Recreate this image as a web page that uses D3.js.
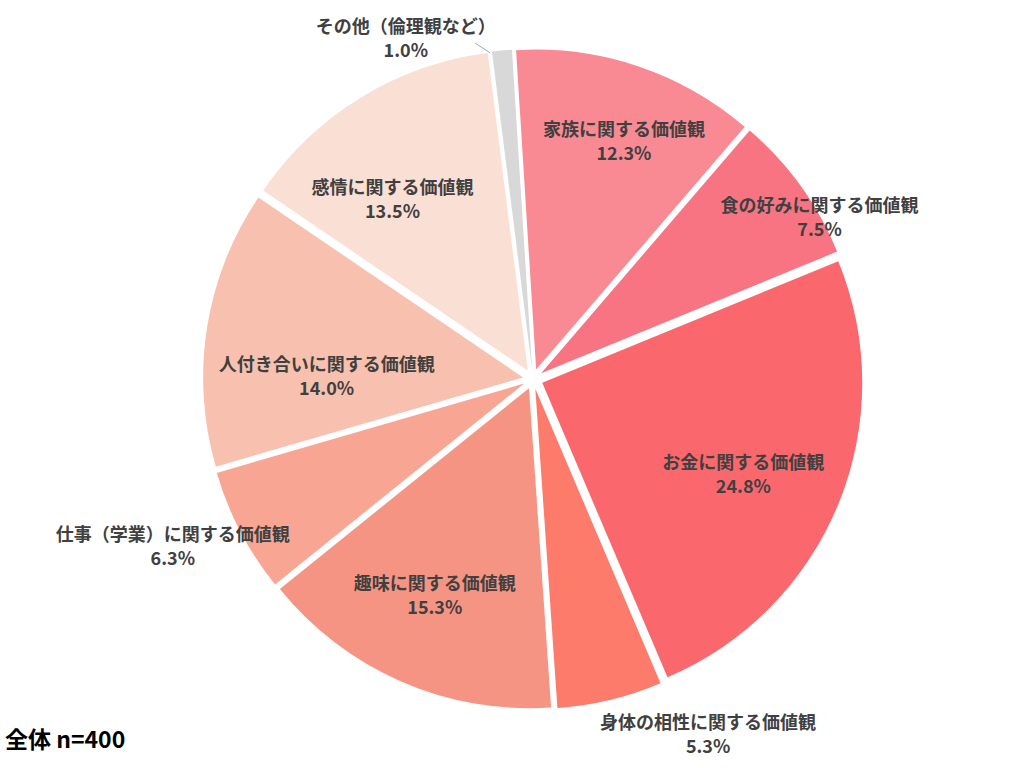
<!DOCTYPE html>
<html>
<head>
<meta charset="utf-8">
<script src="https://d3js.org/d3.v7.min.js"></script>
<style>
  body { margin: 0; background: #fff; }
  svg { display: block; font-family: "Noto Sans CJK JP", "Noto Sans", sans-serif; }
</style>
</head>
<body>
<div id="chart"></div>
<script>
// data, clockwise from the top
const categories = [
    "家族に関する価値観",
    "食の好みに関する価値観",
    "お金に関する価値観",
    "身体の相性に関する価値観",
    "趣味に関する価値観",
    "仕事（学業）に関する価値観",
    "人付き合いに関する価値観",
    "感情に関する価値観",
    "その他（倫理観など）"
];
const shares = [12.3, 7.5, 24.8, 5.3, 15.3, 6.3, 14.0, 13.5, 1.0];
const sampleNote = "全体 n=400";

// styling / layout kept apart from the data
const colors = ["#F98A94", "#F87482", "#FA686E", "#FD7B6B", "#F69484",
                "#F8A693", "#F8C0AE", "#FADFD5", "#D8D8D8"];
// label placement: [angle in degrees clockwise from top, fraction of radius]
const labelAt = [[20.8, 0.80], [60.4, 1.03], [114.1, 0.72], [153.7, 1.235], [204.5, 0.74],
                 [245.2, 1.24], [271.1, 0.645], [322.1, 0.715], [339.6, 1.14]];

const width = 1024, height = 768;
const cx = 533, cy = 379, radius = 320;
const explode = 10;          // every slice pulled out a little, as in the original
const startDeg = -3.6;
const rad = Math.PI / 180;

const svg = d3.select("#chart").append("svg")
    .attr("width", width)
    .attr("height", height);

const data = categories.map((c, i) => ({ name: c, value: shares[i], color: colors[i], at: labelAt[i] }));

const pie = d3.pie()
    .value(d => d.value)
    .sort(null)
    .startAngle(startDeg * rad)
    .endAngle(startDeg * rad + 2 * Math.PI);

const arcs = pie(data);
const arc = d3.arc().innerRadius(0).outerRadius(radius);

function polar(deg, r) {
    return [Math.sin(deg * rad) * r, -Math.cos(deg * rad) * r];
}

const g = svg.append("g").attr("transform", `translate(${cx},${cy})`);

g.selectAll("path")
    .data(arcs)
    .enter()
    .append("path")
    .attr("d", arc)
    .attr("fill", d => d.data.color)
    .attr("transform", d => {
        const p = polar((d.startAngle + d.endAngle) / 2 / rad, explode);
        return `translate(${p[0]},${p[1]})`;
    });

// leader line for the small "other" slice
const p0 = polar(350.2, 341);
const p1 = polar(352.5, 329);
g.append("line")
    .attr("x1", p0[0]).attr("y1", p0[1])
    .attr("x2", p1[0]).attr("y2", p1[1])
    .attr("stroke", "#a6a6a6")
    .attr("stroke-width", 1);

const fmt = d3.format(".1f");

const labels = g.selectAll("g.label")
    .data(data)
    .enter()
    .append("g")
    .attr("class", "label")
    .attr("transform", d => {
        const p = polar(d.at[0], radius * d.at[1]);
        return `translate(${p[0]},${p[1]})`;
    });

labels.append("text")
    .attr("text-anchor", "middle")
    .attr("dominant-baseline", "central")
    .attr("y", -12)
    .style("font-size", "18px")
    .style("font-weight", "bold")
    .style("fill", "#404040")
    .text(d => d.name);

labels.append("text")
    .attr("text-anchor", "middle")
    .attr("dominant-baseline", "central")
    .attr("y", 12)
    .style("font-size", "18px")
    .style("font-weight", "bold")
    .style("fill", "#404040")
    .text(d => fmt(d.value) + "%");

svg.append("text")
    .attr("x", 5)
    .attr("y", 738)
    .attr("dominant-baseline", "central")
    .style("font-size", "23px")
    .style("font-weight", "bold")
    .style("fill", "#000")
    .text(sampleNote);
</script>
</body>
</html>
